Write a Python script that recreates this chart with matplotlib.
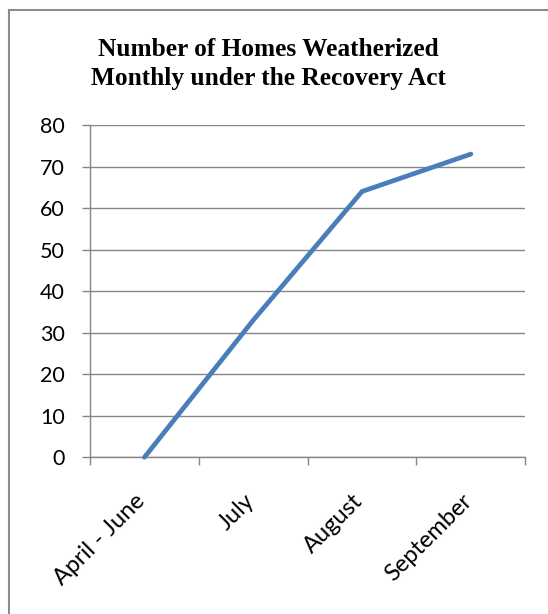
import matplotlib.pyplot as plt
import matplotlib.transforms as mtransforms
from matplotlib.patches import Rectangle

months = ['April - June', 'July', 'August', 'September']
homes = [0, 33, 64, 73]
yticks = [0, 10, 20, 30, 40, 50, 60, 70, 80]

plt.rcParams['font.family'] = ['Lato', 'DejaVu Sans']

fig = plt.figure(figsize=(5.48, 6.14), dpi=100)
ax = fig.add_axes([90 / 548, 156.7 / 614, 435.3 / 548, 332.3 / 614])

grey = '#868686'
x = list(range(len(months)))
ax.plot(x, homes, color='#4A7EBB', linewidth=3.4, solid_capstyle='round',
        solid_joinstyle='miter', clip_on=False, zorder=3)

ax.set_xlim(-0.5, len(months) - 0.5)
ax.set_ylim(0, 80)
ax.set_yticks(yticks)
ax.set_yticklabels([str(v) for v in yticks], fontsize=15.5, color='black')

# labels at category centres, tick marks at category boundaries
ax.set_xticks(x)
ax.set_xticklabels(months, rotation=45, ha='right', va='top', fontsize=17)
ax.set_xticks([i - 0.5 for i in range(len(months) + 1)], minor=True)
ax.tick_params(axis='x', which='major', length=0, pad=24)
ax.tick_params(axis='x', which='minor', length=6, width=1, color=grey, direction='out')
ax.tick_params(axis='y', length=6, width=1, color=grey, direction='out', pad=12)
shift = mtransforms.ScaledTranslation(5 / 100, 0, fig.dpi_scale_trans)
for lab in ax.get_xticklabels():
    lab.set_transform(lab.get_transform() + shift)

ax.yaxis.grid(True, color=grey, linewidth=1)
ax.set_axisbelow(True)
for s in ['top', 'right']:
    ax.spines[s].set_visible(False)
for s in ['left', 'bottom']:
    ax.spines[s].set_color(grey)
    ax.spines[s].set_linewidth(1)

fig.text(268 / 548, 1 - 64 / 614, 'Number of Homes Weatherized\nMonthly under the Recovery Act',
         ha='center', va='center', fontsize=18.3, fontweight='bold',
         family='Liberation Serif', linespacing=1.3)

# chart frame (only top and left visible in the crop)
fig.patches.append(Rectangle((8.5 / 548, -0.05), 1.2, 604 / 614 + 0.05,
                             transform=fig.transFigure, fill=False,
                             edgecolor='#8c8c8c', linewidth=1.5))

fig.savefig('out.png', dpi=100)
